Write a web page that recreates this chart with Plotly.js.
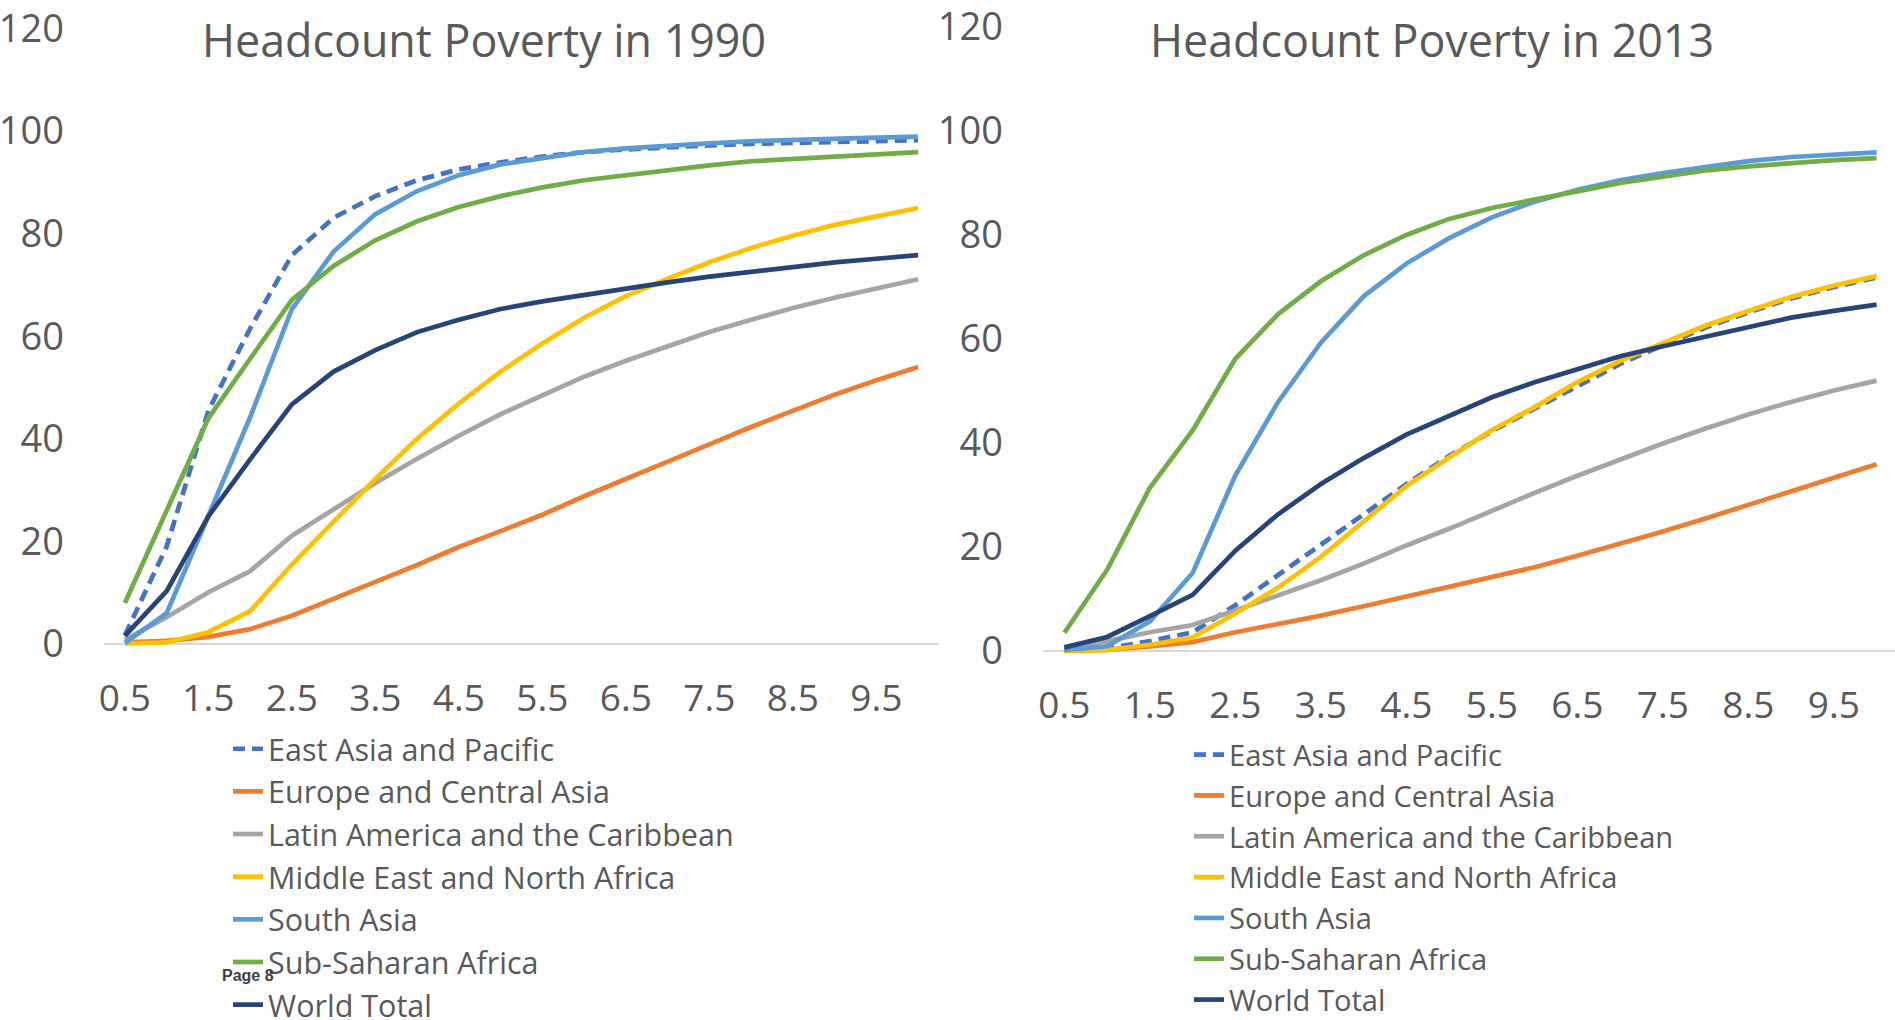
<!DOCTYPE html>
<html>
<head>
<meta charset="utf-8">
<script src="https://cdn.plot.ly/plotly-3.0.1.min.js"></script>
<style>html,body{margin:0;padding:0;overflow:hidden;background:#fff}</style>
</head>
<body>
<div id="chart" style="width:1895px;height:1020px"></div>
<script>
// ---- data ----
const povertyLine = [0.5, 1, 1.5, 2, 2.5, 3, 3.5, 4, 4.5, 5, 5.5, 6, 6.5, 7, 7.5, 8, 8.5, 9, 9.5, 10];
const tickValues = [0.5, 1.5, 2.5, 3.5, 4.5, 5.5, 6.5, 7.5, 8.5, 9.5];
const tickLabels = ['0.5', '1.5', '2.5', '3.5', '4.5', '5.5', '6.5', '7.5', '8.5', '9.5'];
const yTickValues = [0, 20, 40, 60, 80, 100, 120];
const regions = ['East Asia and Pacific', 'Europe and Central Asia', 'Latin America and the Caribbean',
  'Middle East and North Africa', 'South Asia', 'Sub-Saharan Africa', 'World Total'];
const chartTitles = ['Headcount Poverty in 1990', 'Headcount Poverty in 2013'];

const eap1990  = [1.7, 19.0, 45.5, 61.5, 75.8, 83.1, 87.3, 90.4, 92.5, 93.9, 95.0, 95.9, 96.4, 96.9, 97.2, 97.5, 97.7, 97.9, 98.0, 98.2];
const eca1990  = [0.3, 0.6, 1.4, 2.9, 5.5, 8.9, 12.1, 15.4, 18.9, 22.0, 25.2, 28.8, 32.1, 35.6, 38.9, 42.3, 45.5, 48.6, 51.4, 54.0];
const lac1990  = [0.8, 5.2, 10.1, 14.2, 21.1, 26.3, 31.4, 36.1, 40.6, 44.8, 48.4, 52.1, 55.2, 58.1, 60.8, 63.2, 65.5, 67.5, 69.4, 71.1];
const mena1990 = [0.1, 0.3, 2.3, 6.4, 15.5, 24.0, 32.2, 40.0, 46.9, 53.1, 58.6, 63.6, 67.8, 71.2, 74.4, 77.2, 79.6, 81.7, 83.4, 85.0];
const sa1990   = [0.2, 6.0, 25.0, 44.2, 65.3, 76.5, 83.8, 88.3, 91.4, 93.5, 94.7, 95.9, 96.6, 97.2, 97.6, 98.0, 98.3, 98.5, 98.7, 98.9];
const ssa1990  = [8.0, 26.0, 44.0, 55.6, 67.1, 73.7, 78.7, 82.4, 85.2, 87.3, 89.0, 90.4, 91.4, 92.5, 93.3, 94.1, 94.6, 95.1, 95.5, 95.9];
const wld1990  = [1.6, 10.3, 24.9, 36.0, 46.7, 53.1, 57.3, 60.8, 63.2, 65.3, 66.8, 68.1, 69.4, 70.5, 71.6, 72.6, 73.5, 74.4, 75.1, 75.8];

const eap2013  = [0.2, 0.5, 1.9, 3.6, 8.8, 14.6, 20.5, 26.3, 32.1, 37.5, 42.3, 46.6, 51.0, 55.2, 58.8, 62.2, 65.1, 67.8, 70.0, 71.8];
const eca2013  = [0.0, 0.2, 0.9, 1.7, 3.6, 5.1, 6.8, 8.6, 10.5, 12.3, 14.1, 16.1, 18.3, 20.6, 23.0, 25.5, 28.1, 30.7, 33.3, 35.9];
const lac2013  = [0.5, 1.9, 3.6, 5.0, 7.8, 10.6, 13.6, 16.8, 20.3, 23.5, 27.0, 30.4, 33.7, 36.9, 39.9, 42.8, 45.5, 47.9, 50.1, 52.0];
const mena2013 = [0.0, 0.2, 1.2, 2.6, 7.2, 12.2, 18.1, 24.9, 31.7, 37.2, 42.5, 46.9, 51.7, 55.8, 59.3, 62.6, 65.4, 68.1, 70.3, 72.1];
const sa2013   = [0.2, 0.9, 5.7, 15.0, 33.8, 47.9, 59.3, 68.2, 74.5, 79.4, 83.4, 86.4, 88.7, 90.5, 91.9, 93.1, 94.2, 95.0, 95.5, 95.9];
const ssa2013  = [3.5, 15.6, 31.4, 42.4, 56.2, 64.8, 71.1, 76.1, 80.0, 83.1, 85.2, 86.7, 88.4, 90.0, 91.3, 92.4, 93.2, 93.9, 94.4, 94.8];
const wld2013  = [0.7, 2.7, 6.7, 10.8, 19.3, 26.3, 32.1, 37.1, 41.6, 45.2, 48.8, 51.7, 54.3, 56.7, 58.6, 60.5, 62.3, 64.1, 65.4, 66.6];

// ---- styles ----
const seriesColors = ['#4472C4', '#ED7D31', '#A5A5A5', '#FFC000', '#5B9BD5', '#70AD47', '#264478'];
const seriesDash = ['12px,7px', 'solid', 'solid', 'solid', 'solid', 'solid', 'solid'];
const FONT = '"Open Sans", "Liberation Sans", sans-serif';
const GREY = '#595959';

const data1990 = [eap1990, eca1990, lac1990, mena1990, sa1990, ssa1990, wld1990];
const data2013 = [eap2013, eca2013, lac2013, mena2013, sa2013, ssa2013, wld2013];

const traces = [];
[[data1990, 'x', 'y', 'legend'], [data2013, 'x2', 'y2', 'legend2']].forEach(([set, xa, ya, lg]) => {
  set.forEach((vals, i) => {
    traces.push({
      type: 'scatter', mode: 'lines',
      x: povertyLine, y: vals,
      name: regions[i],
      xaxis: xa, yaxis: ya, legend: lg,
      line: {color: seriesColors[i], width: 4.7, dash: seriesDash[i]},
      hoverinfo: 'skip'
    });
  });
});

const W = 1895, H = 1020;
const px = v => v / W;
const py = v => (H - v) / H;

const xCommon = {
  tickmode: 'array', tickvals: tickValues, ticktext: tickLabels,
  showgrid: false, zeroline: false, showline: false, ticks: '',
  tickfont: {family: FONT, size: 37, color: GREY},
  ticklabelstandoff: 21, ticklabeloverflow: 'allow', fixedrange: true
};
const yCommon = {
  range: [-1.5, 120], tickmode: 'array', tickvals: yTickValues,
  showgrid: false, zeroline: true, zerolinecolor: '#D9D9D9', zerolinewidth: 1.6,
  showline: false, ticks: '',
  tickfont: {family: FONT, size: 38, color: GREY},
  ticklabelstandoff: 39, ticklabeloverflow: 'allow', fixedrange: true
};

const legendCommon = {
  xanchor: 'left', yanchor: 'top', orientation: 'v',
  bgcolor: 'rgba(0,0,0,0)', borderwidth: 0, tracegroupgap: 0
};

const layout = {
  width: W, height: H,
  margin: {l: 0, r: 0, t: 0, b: 0, autoexpand: false},
  paper_bgcolor: '#fff', plot_bgcolor: 'rgba(0,0,0,0)',
  showlegend: true,
  xaxis: Object.assign({}, xCommon, {domain: [px(104), px(939)], range: [0.25, 10.25], anchor: 'y'}),
  yaxis: Object.assign({}, yCommon, {domain: [py(651.7), py(28.4)], anchor: 'x'}),
  xaxis2: Object.assign({}, xCommon, {domain: [px(1043), 1], range: [0.25, 10.215], anchor: 'y2'}),
  yaxis2: Object.assign({}, yCommon, {domain: [py(658.8), py(27)], anchor: 'x2'}),
  legend: Object.assign({}, legendCommon, {x: px(228), y: py(722.4),
    font: {family: FONT, size: 30.5, color: GREY}}),
  legend2: Object.assign({}, legendCommon, {x: px(1189), y: py(729.2),
    font: {family: FONT, size: 29.1, color: GREY}}),
  annotations: [
    {text: chartTitles[0], xref: 'paper', yref: 'paper', x: px(483.5), y: py(40),
     xanchor: 'center', yanchor: 'middle', showarrow: false,
     font: {family: FONT, size: 44.8, color: GREY}},
    {text: chartTitles[1], xref: 'paper', yref: 'paper', x: px(1432), y: py(40),
     xanchor: 'center', yanchor: 'middle', showarrow: false,
     font: {family: FONT, size: 44.8, color: GREY}},
    {text: '<b>Page 8</b>', xref: 'paper', yref: 'paper', x: px(248), y: py(975),
     xanchor: 'center', yanchor: 'middle', showarrow: false,
     font: {family: '"Liberation Sans", sans-serif', size: 16, color: '#404040'}}
  ]
};

Plotly.newPlot('chart', traces, layout, {staticPlot: true, displayModeBar: false});
</script>
</body>
</html>
